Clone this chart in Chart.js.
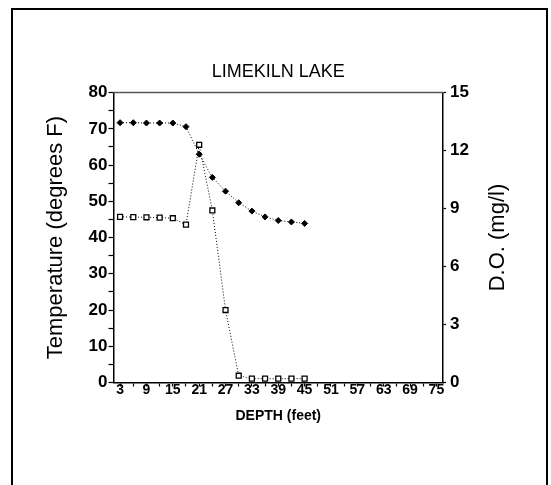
<!DOCTYPE html>
<html lang="en">
<head>
    <meta charset="UTF-8">
    <title>Limekiln Lake</title>
    <script src="https://cdn.jsdelivr.net/npm/chart.js@4.4.1/dist/chart.umd.min.js"></script>
    <style>
        body {
            margin: 0;
            background: #fff;
        }

        .frame {
            position: absolute;
            left: 11px;
            top: 8px;
            width: 537px;
            height: 500px;
            border: 2.5px solid #000;
            box-sizing: border-box;
        }

        #chart {
            position: absolute;
            left: 0;
            top: 0;
        }
    </style>
</head>
<body>
    <div class="frame"></div>
    <canvas id="chart" width="551" height="485"></canvas>

    <script>
        // depth in feet, one category every 3 ft
        const depths = ['3', '6', '9', '12', '15', '18', '21', '24', '27', '30', '33', '36', '39',
                        '42', '45', '48', '51', '54', '57', '60', '63', '66', '69', '72', '75'];
        const temperature = [71.7, 71.7, 71.6, 71.6, 71.6, 70.6, 63.0, 56.6, 52.8, 49.6, 47.3, 45.7, 44.7, 44.3, 43.9];
        const dissolvedOxygen = [8.57, 8.56, 8.55, 8.53, 8.5, 8.17, 12.3, 8.9, 3.75, 0.35, 0.2, 0.2, 0.2, 0.2, 0.2];

        const chartTitle = 'LIMEKILN LAKE';
        const leftTitle = 'Temperature (degrees F)';
        const rightTitle = 'D.O. (mg/l)';
        const bottomTitle = 'DEPTH (feet)';

        Chart.defaults.font.family = '"Liberation Sans", Arial, Helvetica, sans-serif';
        Chart.defaults.color = '#000';

        // top frame line of the plot and the right axis title (reads bottom to top)
        const extras = {
            id: 'extras',
            afterDraw(chart) {
                const ctx = chart.ctx;
                const a = chart.chartArea;
                ctx.save();
                ctx.strokeStyle = '#555';
                ctx.lineWidth = 1.5;
                ctx.beginPath();
                ctx.moveTo(a.left, a.top);
                ctx.lineTo(a.right, a.top);
                ctx.stroke();

                ctx.translate(a.right + 55, (a.top + a.bottom) / 2);
                ctx.rotate(-Math.PI / 2);
                ctx.font = '22px "Liberation Sans", Arial, sans-serif';
                ctx.fillStyle = '#000';
                ctx.textAlign = 'center';
                ctx.textBaseline = 'middle';
                ctx.fillText(rightTitle, 0, 0);
                ctx.restore();
            }
        };

        const ctx = document.getElementById('chart').getContext('2d');
        new Chart(ctx, {
            type: 'line',
            data: {
                labels: depths,
                datasets: [{
                    label: 'Temperature',
                    data: temperature,
                    yAxisID: 'y',
                    borderColor: '#000',
                    borderWidth: 1,
                    borderDash: [1, 2],
                    tension: 0,
                    pointStyle: 'rectRot',
                    pointRadius: 3,
                    pointBackgroundColor: '#000',
                    pointBorderColor: '#000',
                    pointBorderWidth: 1
                }, {
                    label: 'D.O.',
                    data: dissolvedOxygen,
                    yAxisID: 'y2',
                    borderColor: '#000',
                    borderWidth: 1,
                    borderDash: [1, 2],
                    tension: 0,
                    pointStyle: 'rect',
                    pointRadius: 3.5,
                    pointBackgroundColor: '#fff',
                    pointBorderColor: '#000',
                    pointBorderWidth: 1.3
                }]
            },
            options: {
                responsive: false,
                animation: false,
                layout: { padding: 0 },
                plugins: {
                    legend: { display: false },
                    tooltip: { enabled: false },
                    title: {
                        display: true,
                        text: chartTitle,
                        fullSize: false,
                        color: '#000',
                        font: { size: 18, weight: 'normal' },
                        padding: { top: 61, bottom: 10 }
                    }
                },
                scales: {
                    x: {
                        type: 'category',
                        offset: true,
                        grid: { drawOnChartArea: false, offset: false, tickLength: 4, color: '#000', tickWidth: 1.2 },
                        border: { color: '#000', width: 1.5 },
                        ticks: {
                            autoSkip: false,
                            maxRotation: 0,
                            padding: -3,
                            color: '#000',
                            font: { size: 14, weight: 'bold', lineHeight: 1 },
                            callback: function(v, i) { return i % 2 === 0 ? depths[i] : ''; }
                        },
                        title: {
                            display: true,
                            text: bottomTitle,
                            color: '#000',
                            font: { size: 14, weight: 'bold' },
                            padding: { top: 0, bottom: 60 }
                        },
                        afterFit: function(s) { s.height = 102.5; }
                    },
                    y: {
                        position: 'left',
                        min: 0,
                        max: 80,
                        grid: { drawOnChartArea: false, tickLength: 5, color: '#000', tickWidth: 1.2 },
                        border: { color: '#000', width: 1.5 },
                        ticks: {
                            stepSize: 5,
                            autoSkip: false,
                            padding: 1,
                            color: '#000',
                            font: { size: 17, weight: 'bold' },
                            callback: function(v) { return v % 10 === 0 ? v : ''; }
                        },
                        title: {
                            display: true,
                            text: leftTitle,
                            color: '#000',
                            font: { size: 22 },
                            padding: { top: 43, bottom: 0 }
                        },
                        afterFit: function(s) { s.width = 113.5; }
                    },
                    y2: {
                        position: 'right',
                        min: 0,
                        max: 15,
                        grid: { drawOnChartArea: false, tickLength: 3, color: '#000', tickWidth: 1.2 },
                        border: { color: '#000', width: 1.5 },
                        ticks: {
                            stepSize: 3,
                            padding: 4,
                            color: '#000',
                            font: { size: 17, weight: 'bold' }
                        },
                        afterFit: function(s) { s.width = 108; }
                    }
                }
            },
            plugins: [extras]
        });
    </script>
</body>
</html>
